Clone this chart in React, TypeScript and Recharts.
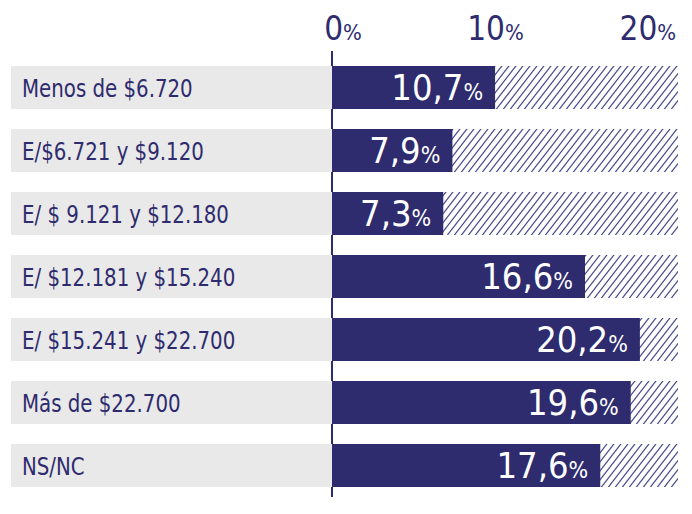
import { BarChart, Bar, XAxis, YAxis, LabelList } from "recharts";

const categories = [
  "Menos de $6.720",
  "E/$6.721 y $9.120",
  "E/ $ 9.121 y $12.180",
  "E/ $12.181 y $15.240",
  "E/ $15.241 y $22.700",
  "Más de $22.700",
  "NS/NC",
];
const shares = [10.7, 7.9, 7.3, 16.6, 20.2, 19.6, 17.6];
const xTicks = [0, 10, 20];

const data = categories.map((name, i) => ({ name, value: shares[i] }));

const NAVY = "#2e2b6e";
const FONT = "'DejaVu Sans Condensed', 'Liberation Sans Narrow', sans-serif";

function TopTick({ x, payload }: any) {
  return (
    <text x={x + 11} y={32} textAnchor="middle" fill={NAVY} fontFamily={FONT}>
      <tspan fontSize={33}>{payload.value}</tspan>
      <tspan fontSize={22}>%</tspan>
    </text>
  );
}

function CategoryTick({ y, payload }: any) {
  return (
    <g>
      <rect x={3} y={y - 21.5} width={321} height={43} fill="#e8e9e8" />
      <text
        transform={`translate(14, ${y + 9}) scale(0.88, 1)`}
        fill={NAVY}
        fontFamily={FONT}
        fontSize={25}
      >
        {payload.value}
      </text>
    </g>
  );
}

function ValueLabel({ x, y, width, height, value }: any) {
  const txt = String(value).replace(".", ",");
  return (
    <text
      x={x + width - 12}
      y={y + height / 2 + 12}
      textAnchor="end"
      fill="#ffffff"
      fontFamily={FONT}
    >
      <tspan fontSize={36}>{txt}</tspan>
      <tspan fontSize={23}>%</tspan>
    </text>
  );
}

export default function App() {
  return (
    <BarChart
      width={684}
      height={506}
      data={data}
      layout="vertical"
      margin={{ top: 0, right: 14, left: 3, bottom: 17 }}
    >
      <defs>
        <pattern id="hatch" patternUnits="userSpaceOnUse" width={7} height={9}>
          <line x1={0} y1={9} x2={7} y2={0} stroke="#4b4a8c" strokeWidth={1.2} />
          <line x1={-1} y1={1.3} x2={1} y2={-1.3} stroke="#4b4a8c" strokeWidth={1.2} />
          <line x1={6} y1={10.3} x2={8} y2={7.7} stroke="#4b4a8c" strokeWidth={1.2} />
        </pattern>
      </defs>
      <XAxis
        type="number"
        orientation="top"
        domain={[0, 22.7]}
        ticks={xTicks}
        height={43}
        axisLine={false}
        tickLine={false}
        tick={<TopTick />}
        allowDataOverflow
      />
      <YAxis
        type="category"
        dataKey="name"
        width={321}
        padding={{ top: 5, bottom: 0 }}
        axisLine={{ stroke: NAVY, strokeWidth: 2 }}
        tickLine={false}
        tick={<CategoryTick />}
      />
      <Bar
        dataKey="value"
        fill={NAVY}
        barSize={43}
        background={{ fill: "url(#hatch)" }}
        isAnimationActive={false}
      >
        <LabelList dataKey="value" content={<ValueLabel />} />
      </Bar>
    </BarChart>
  );
}
